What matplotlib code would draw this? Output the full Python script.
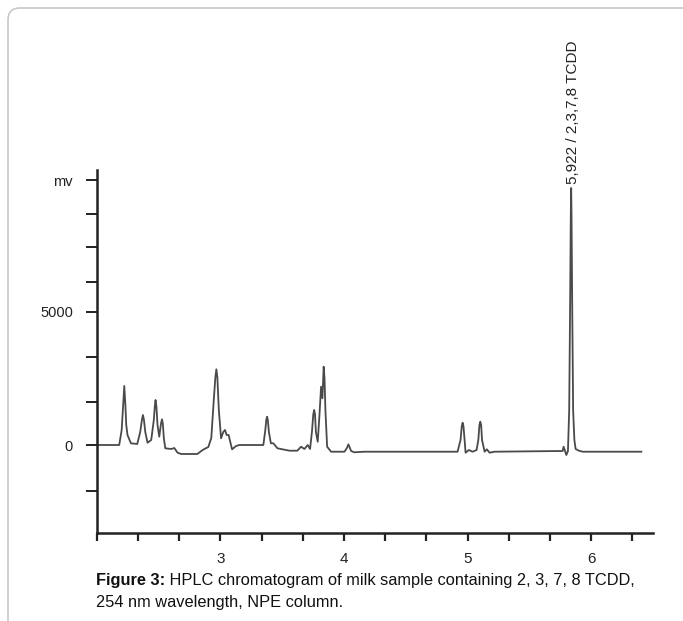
import matplotlib
matplotlib.use("Agg")
import matplotlib.pyplot as plt
from matplotlib.patches import FancyBboxPatch

# retention time (min) and detector signal (mV)
rt = [2.000, 2.182, 2.202, 2.214, 2.223, 2.232, 2.239, 2.249, 2.277, 2.328,
      2.352, 2.366, 2.374, 2.382, 2.393, 2.411, 2.441, 2.462, 2.470, 2.476,
      2.483, 2.492, 2.506, 2.520, 2.528, 2.535, 2.543, 2.555, 2.603, 2.628,
      2.654, 2.684, 2.814, 2.857, 2.879, 2.903, 2.927, 2.947, 2.960, 2.968,
      2.976, 2.988, 3.006, 3.024, 3.038, 3.051, 3.067, 3.095, 3.127, 3.154,
      3.348, 3.364, 3.372, 3.378, 3.384, 3.393, 3.409, 3.429, 3.462, 3.559,
      3.623, 3.653, 3.680, 3.707, 3.726, 3.741, 3.752, 3.759, 3.766, 3.773,
      3.788, 3.802, 3.815, 3.826, 3.836, 3.843, 3.850, 3.864, 3.896, 4.004,
      4.024, 4.036, 4.058, 4.085, 4.166, 4.919, 4.943, 4.953, 4.960, 4.967,
      4.976, 4.984, 5.011, 5.040, 5.073, 5.087, 5.096, 5.103, 5.110, 5.117,
      5.138, 5.156, 5.178, 5.219, 5.745, 5.769, 5.777, 5.799, 5.812, 5.822,
      5.830, 5.835, 5.838, 5.841, 5.846, 5.854, 5.864, 5.874, 5.901, 5.931,
      6.406]
mv = [0, 0, 564, 1500, 2218, 1500, 752, 376, 64, 38,
      489, 950, 1128, 950, 489, 86, 188, 940, 1450, 1692,
      1450, 752, 312, 800, 966, 800, 263, -124, -150, -113,
      -289, -338, -338, -188, -132, -75, 263, 1692, 2550, 2846,
      2550, 1316, 252, 489, 564, 376, 376, -162, -38, 0,
      0, 564, 950, 1064, 950, 489, 64, 64, -124, -214,
      -214, -64, -150, 0, -150, 489, 1150, 1316, 1150, 489,
      124, 1128, 2192, 1755, 2943, 2500, 1316, -64, -252, -252,
      -113, 26, -226, -274, -252, -252, 188, 700, 838, 700,
      188, -289, -188, -252, -188, 188, 750, 876, 750, 188,
      -252, -162, -289, -252, -226, -226, -64, -376, -226, 1300,
      5500, 8600, 9661, 8600, 5500, 1300, 188, -150, -214, -252,
      -252]

peak_label = "5,922 / 2,3,7,8 TCDD"
peak_rt = 5.838
peak_mv = 9661

x_ticks = [2 + k / 3 for k in range(14)]
x_labels = {3: "3", 4: "4", 5: "5", 6: "6"}
y_ticks = [-1730, 0, 1620, 3310, 5000, 6130, 7440, 8680, 9960]
y_labels = ["", "0", "", "", "5000", "", "", "", "mv"]

plt.rcParams["font.family"] = ["Liberation Sans", "DejaVu Sans"]

fig = plt.figure(figsize=(6.83, 6.21), dpi=100)
ax = fig.add_axes([96.7 / 683, 88 / 621, (653 - 96.7) / 683, (533 - 170) / 621])

ax.plot(rt, mv, color="#4a4a4a", lw=1.3)
ax.text(peak_rt + 0.012, peak_mv + 150, peak_label, rotation=90,
        ha="center", va="bottom", fontsize=11, color="#222222")

ax.set_xlim(2.0, 6.5)
ax.set_ylim(-3308, 10338)

ax.set_xticks(x_ticks)
ax.set_xticklabels([x_labels.get(round(t, 3), "") for t in x_ticks])
ax.set_yticks(y_ticks)
ax.set_yticklabels(y_labels)
ax.tick_params(axis="x", direction="out", length=6, width=1.6, pad=8,
               labelsize=11, colors="#222222")
ax.tick_params(axis="y", direction="out", length=8, width=1.4, pad=9,
               labelsize=10.5, colors="#222222")

for s in ["top", "right"]:
    ax.spines[s].set_visible(False)
for s in ["left", "bottom"]:
    ax.spines[s].set_linewidth(1.8)
    ax.spines[s].set_color("#222222")

# rounded frame around the figure panel
frame = FancyBboxPatch((8, -30), 720, 643, boxstyle="round,pad=0,rounding_size=12",
                       transform=None, fill=False, edgecolor="#c8c8c8", lw=1.2)
fig.patches.append(frame)

t1 = fig.text(96 / 683, 1 - 581 / 621, "Figure 3:", fontsize=11.8,
              fontweight="bold", va="center", ha="left", color="#111111")
ax.annotate(" HPLC chromatogram of milk sample containing 2, 3, 7, 8 TCDD,",
            xy=(1, 0.5), xycoords=t1, va="center", ha="left",
            fontsize=11.8, color="#111111", annotation_clip=False)
fig.text(96 / 683, 1 - 603 / 621, "254 nm wavelength, NPE column.",
         fontsize=11.8, va="center", ha="left", color="#111111")

fig.savefig("out.png", dpi=100)
